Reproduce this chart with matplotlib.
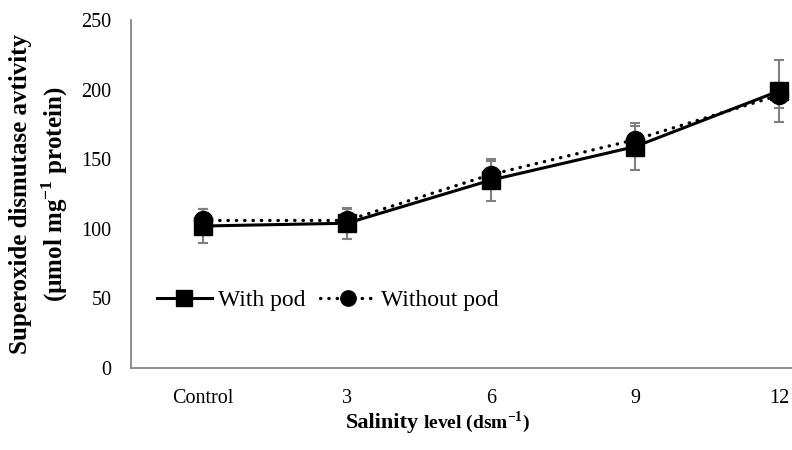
import matplotlib
matplotlib.use("Agg")
import matplotlib.pyplot as plt

# ── data ───────────────────────────────────────────────────────────────
categories = ["Control", "3", "6", "9", "12"]
with_pod = [102, 104, 135, 159, 199]
with_pod_err = [12, 11, 15, 17, 22]
without_pod = [106, 106, 139, 164, 196]
without_pod_err = [8, 8, 10, 10, 9]

plt.rcParams["font.family"] = ["Liberation Serif", "DejaVu Serif"]
plt.rcParams["mathtext.fontset"] = "custom"
plt.rcParams["mathtext.rm"] = "Liberation Serif"
plt.rcParams["mathtext.bf"] = "Liberation Serif:bold"

fig = plt.figure(figsize=(7.92, 4.5), dpi=100)
# plot area runs past the right edge like in the (cropped) original
ax = fig.add_axes([131 / 792, 1 - 368 / 450, 720 / 792, 348 / 450])

x = list(range(len(categories)))
grey = "#808080"

ax.errorbar(x, without_pod, yerr=without_pod_err, fmt="none", ecolor=grey,
            elinewidth=1.5, capsize=3.3, capthick=1.5, zorder=2)
ax.errorbar(x, with_pod, yerr=with_pod_err, fmt="none", ecolor=grey,
            elinewidth=1.5, capsize=3.3, capthick=1.5, zorder=2)
ax.plot(x, with_pod, color="black", linewidth=2.2, marker="s", markersize=13,
        label="With pod", zorder=3)
ax.plot(x, without_pod, color="black", linewidth=2.4, linestyle=(0, (0.1, 2.4)),
        dash_capstyle="round", marker="o", markersize=13, label="Without pod",
        zorder=4)

ax.set_xlim(-0.5, 4.5)
ax.set_ylim(0, 250)
ax.set_yticks([0, 50, 100, 150, 200, 250])
ax.set_xticks(x)
ax.set_xticklabels(categories)
ax.tick_params(axis="both", length=0, labelsize=14.5)
ax.tick_params(axis="y", pad=14)
ax.tick_params(axis="x", pad=15)

for side in ("top", "right"):
    ax.spines[side].set_visible(False)
for side in ("left", "bottom"):
    ax.spines[side].set_color("#868686")
    ax.spines[side].set_linewidth(1.3)

# y label: two bold lines, centred on the axis
ax.set_ylabel("Superoxide dismutase avtivity\n(µmol mg$^{\\mathbf{-1}}$ protein)",
              fontsize=18, fontweight="bold", linespacing=1.3,
              va="center", ha="center")
ax.yaxis.set_label_coords(-0.127, 0.5)

# x label: "Salinity" is set larger than the rest
fig.text(419 / 792, 1 - 428 / 450, "Salinity", fontsize=16, fontweight="bold",
         ha="right", va="baseline")
fig.text(423 / 792, 1 - 428 / 450, "level (dsm$^{\\mathbf{-1}}$)", fontsize=14,
         fontweight="bold", ha="left", va="baseline")

ax.legend(loc="center left", bbox_to_anchor=(0.036, 0.195), ncol=2,
          frameon=False, fontsize=17, borderpad=0, borderaxespad=0,
          handlelength=2.33, handletextpad=0.25, columnspacing=0.64,
          markerscale=0.85)

fig.savefig("out.png", dpi=100)
